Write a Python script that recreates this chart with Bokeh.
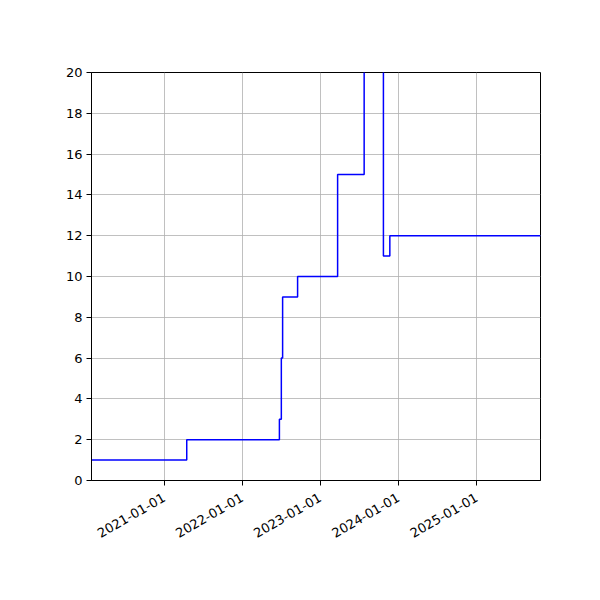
import math
import pandas as pd
from bokeh.plotting import figure
from bokeh.models import Range1d, FixedTicker, DatetimeTickFormatter
from bokeh.embed import file_html
from bokeh.resources import INLINE

# Step data (value holds from each date until the next)
change_dates = ["2020-01-28", "2021-04-17", "2022-06-24", "2022-07-03", "2022-07-09",
                "2022-09-17", "2023-03-23", "2023-07-25", "2023-10-23", "2023-11-22",
                "2025-10-26"]
values = [1, 2, 3, 6, 9, 10, 15, 30, 11, 12, 12]

x_start = "2020-01-28"
x_end = "2025-10-26"
y_min, y_max = 0, 20
year_ticks = ["2021-01-01", "2022-01-01", "2023-01-01", "2024-01-01", "2025-01-01"]
y_ticks = [0, 2, 4, 6, 8, 10, 12, 14, 16, 18, 20]

dates = pd.to_datetime(change_dates)
tick_ms = [pd.Timestamp(t).value / 1e6 for t in year_ticks]

p = figure(width=584, height=584, output_backend="svg", toolbar_location=None,
           x_axis_type="datetime",
           x_range=Range1d(pd.Timestamp(x_start), pd.Timestamp(x_end)),
           y_range=Range1d(y_min, y_max),
           min_border_left=91, min_border_right=44, min_border_top=72, min_border_bottom=104)

p.step(dates, values, mode="after", line_color="blue", line_width=1.5)

font = "DejaVu Sans"
p.xaxis.ticker = FixedTicker(ticks=tick_ms)
p.xaxis.formatter = DatetimeTickFormatter(years="%Y-%m-%d", months="%Y-%m-%d", days="%Y-%m-%d")
p.xaxis.major_label_orientation = math.pi / 6
p.yaxis.ticker = FixedTicker(ticks=y_ticks)

for ax in [p.xaxis[0], p.yaxis[0]]:
    ax.major_label_text_font = font
    ax.major_label_text_font_size = "13px"
    ax.major_label_text_color = "black"
    ax.axis_line_color = "black"
    ax.major_tick_line_color = "black"
    ax.major_tick_out = 5
    ax.major_tick_in = 0
    ax.minor_tick_line_color = None
    ax.major_label_standoff = 4

p.xaxis.major_label_standoff = 11

p.grid.grid_line_color = "#b0b0b0"
p.grid.grid_line_width = 0.8
p.outline_line_color = "black"
p.outline_line_width = 1
p.background_fill_color = "white"
p.border_fill_color = "white"

open("out.html", "w").write(file_html(p, INLINE))
